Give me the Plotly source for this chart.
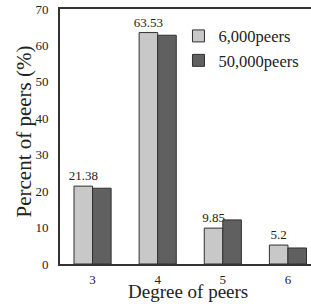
import plotly.graph_objects as go

categories = ["3", "4", "5", "6"]
peers_6000 = [21.38, 63.53, 9.85, 5.2]
peers_50000 = [20.8, 62.8, 12.1, 4.4]
label_6000 = ["21.38", "63.53", "9.85", "5.2"]
y_ticks = [0, 10, 20, 30, 40, 50, 60, 70]

serif = "Liberation Serif, Times New Roman, serif"

fig = go.Figure()
fig.add_trace(go.Bar(
    x=categories, y=peers_6000, name="6,000peers",
    marker=dict(color="#c8c8c8", line=dict(color="#303030", width=1)),
    text=label_6000, textposition="outside", cliponaxis=False,
    constraintext="none",
    textfont=dict(family=serif, size=13, color="#222"),
))
fig.add_trace(go.Bar(
    x=categories, y=peers_50000, name="50,000peers",
    marker=dict(color="#606060", line=dict(color="#303030", width=1)),
))

fig.update_layout(
    width=311, height=304,
    margin=dict(l=60, r=0, t=9, b=40, autoexpand=False),
    paper_bgcolor="white", plot_bgcolor="white",
    barmode="group", bargap=0.43, bargroupgap=0,
    font=dict(family=serif, color="#222", size=13),
    legend=dict(x=0.472, y=0.962, xanchor="left", yanchor="top",
                font=dict(family=serif, size=16.5, color="#222"),
                bgcolor="rgba(0,0,0,0)", tracegroupgap=0, itemwidth=30),
    xaxis=dict(
        type="category", range=[-0.5, 3.354], automargin=False,
        showline=True, linecolor="#333", linewidth=2, mirror=True,
        ticks="outside", ticklen=2, tickcolor="rgba(0,0,0,0)",
        tickfont=dict(family=serif, size=13),
    ),
    yaxis=dict(
        range=[0, 70], tickvals=y_ticks, showgrid=False, zeroline=False,
        automargin=False,
        showline=True, linecolor="#333", linewidth=2, mirror=False,
        ticks="outside", ticklen=7, tickcolor="rgba(0,0,0,0)",
        tickfont=dict(family=serif, size=13),
    ),
    annotations=[
        dict(text="Degree of peers", xref="paper", yref="paper",
             x=0.508, y=-0.106, xanchor="center", yanchor="middle",
             showarrow=False, font=dict(family=serif, size=19)),
        dict(text="Percent of peers (%)", xref="paper", yref="paper",
             x=-0.143, y=0.52, xanchor="center", yanchor="middle", textangle=-90,
             showarrow=False, font=dict(family=serif, size=21)),
    ],
)

fig.write_html("out.html", config={"displayModeBar": False},
               post_script="document.body.style.margin='0px';")
